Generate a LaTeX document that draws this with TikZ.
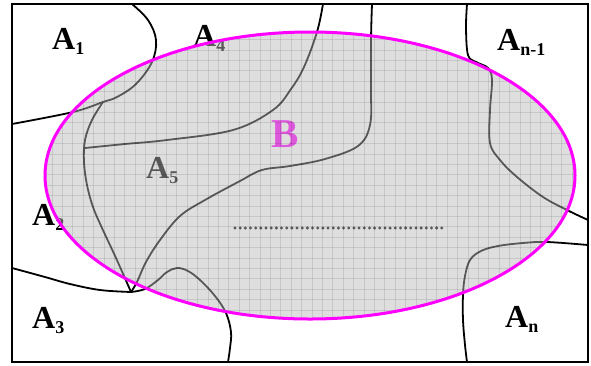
\documentclass[tikz,border=0pt]{standalone}
\usepackage{fontspec}
\setmainfont{Liberation Serif}
\usepackage{tikz}
\usetikzlibrary{arrows.meta}

\definecolor{bmagenta}{RGB}{255,0,255}
\newcommand{\Areg}[1]{\fontsize{32}{34}\selectfont A\raisebox{-5pt}{\fontsize{18}{20}\selectfont #1}}

\begin{document}
\begin{tikzpicture}[x=1pt, y=-1pt,
    frontera/.style={black, line width=1.8pt},
    rejilla/.style={black, opacity=.1, line width=.8pt},
    etiq/.style={inner sep=0pt, anchor=base west, font=\bfseries}]
                \useasboundingbox (0,0) rectangle (591,365);

                % Marco
                \draw[line width=2.2pt] (12,4) rectangle (588,362);

                % Fronteras de las regiones A_i
                \draw[frontera] plot[smooth, tension=0.6] coordinates {(132,4) (148,20) (156,40) (152,62) (136,84) (117,97) (103,102) (73,112) (12,124)};
                \draw[frontera] plot[smooth, tension=0.6] coordinates {(103,102) (92,120) (85,140) (84,162) (87,185) (93,207) (102,228) (116,258) (131,292)};
                \draw[frontera] plot[smooth, tension=0.6] coordinates {(85,148) (125,144) (167,140) (233,130) (273,110) (291,89) (304,67) (317,32) (323,4)};
                \draw[frontera] plot[smooth, tension=0.6] coordinates {(372,4) (371,40) (371,90) (370,125) (358,146) (325,159) (290,166) (262,170) (240,181) (205,200) (180,216) (160,240) (146,262) (137,282) (131,292)};
                \draw[frontera] plot[smooth, tension=0.6] coordinates {(12,268) (45,277) (70,284) (100,290) (131,292)};
                \draw[frontera] plot[smooth, tension=0.6] coordinates {(131,292) (145,289) (158,280) (167,272) (177,268) (188,271) (200,280) (215,296) (226,313) (231,332) (230,348) (228,362)};
                \draw[frontera] plot[smooth, tension=0.6] coordinates {(467,4) (466,28) (468,55) (476,62) (488,68) (492,80) (490,110) (490,143) (500,160) (517,177) (543,197) (567,210) (588,220)};
                \draw[frontera] plot[smooth, tension=0.6] coordinates {(588,245) (547,242) (523,243) (498,246) (481,251) (470,260) (465,276) (463,295) (463,320) (465,345) (467,362)};

                % Etiquetas de las regiones
                \node[etiq] (a1) at (52,49) {\Areg{1}};
                \node[etiq] (a4) at (193,46) {\Areg{4}};
                \node[etiq] (a5) at (146,178) {\Areg{5}};
                \node[etiq] (a2) at (32,225) {\Areg{2}};
                \node[etiq] (a3) at (32,328) {\Areg{3}};
                \node[etiq] (an1) at (497,50) {\Areg{n-1}};
                \node[etiq] (an) at (505,327) {\Areg{n}};
                \node[etiq, text=bmagenta, font=\bfseries\fontsize{41}{43}\selectfont] (b) at (271,147) {B};

                % Puntos suspensivos
                \draw[line width=3.3pt, line cap=round, dash pattern=on 0pt off 5.17pt] (235,228) -- (442,228);

                % Region B (elipse semitransparente con rejilla)
                \fill[black!27, opacity=.48] (310,175.5) ellipse [x radius=265pt, y radius=143.5pt];
                \begin{scope}
                \clip (310,175.5) ellipse [x radius=265pt, y radius=143.5pt];
                \foreach \k in {4,...,56}
                    \draw[rejilla] (10.4*\k,25) -- (10.4*\k,330);
                \foreach \k in {2,...,31}
                    \draw[rejilla] (40,8.4+10.4*\k) -- (580,8.4+10.4*\k);
                \end{scope}
                \draw[bmagenta, line width=3pt] (310,175.5) ellipse [x radius=265pt, y radius=143.5pt];
            \end{tikzpicture}
\end{document}
